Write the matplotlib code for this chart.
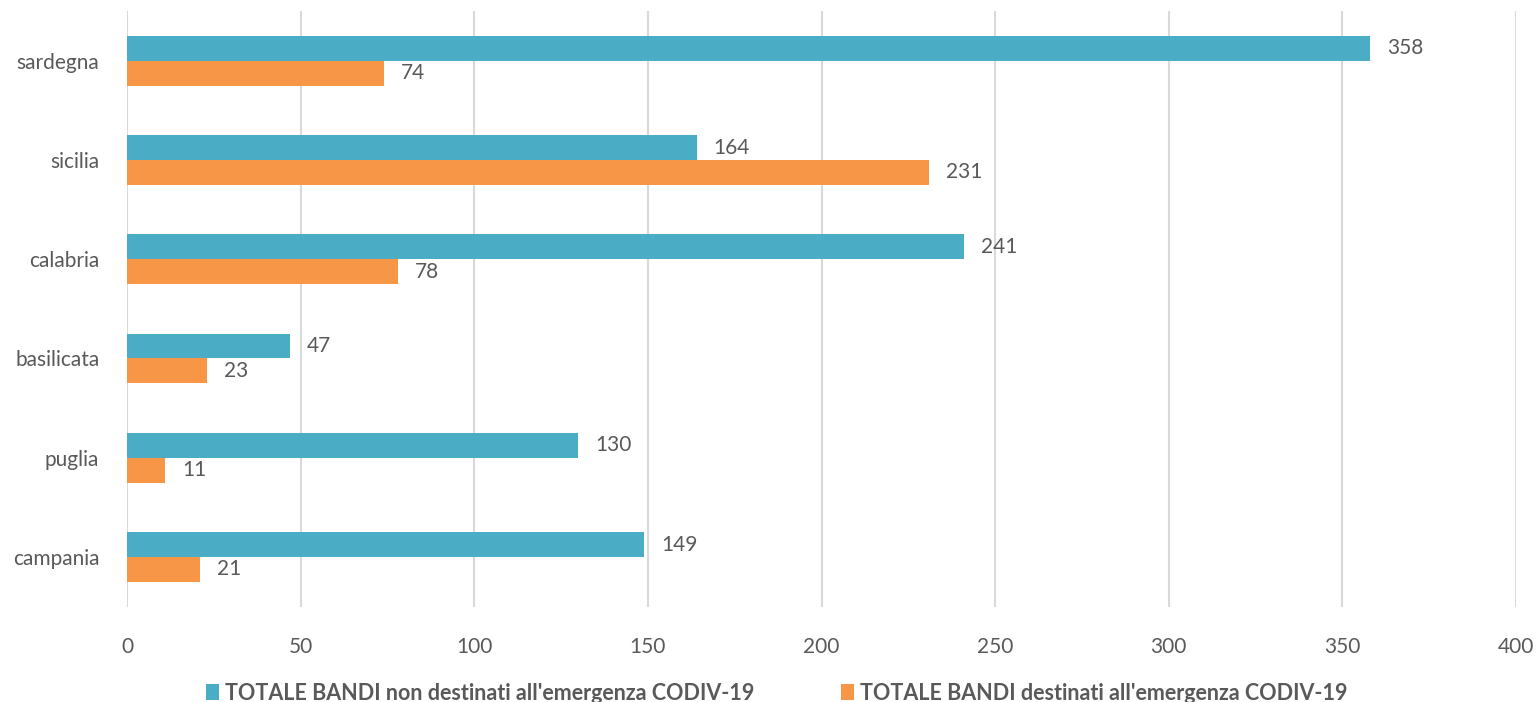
import matplotlib.pyplot as plt
import numpy as np

plt.rcParams['font.family'] = ['Lato', 'DejaVu Sans']

regioni = ['campania', 'puglia', 'basilicata', 'calabria', 'sicilia', 'sardegna']
non_covid = [149, 130, 47, 241, 164, 358]
covid = [21, 11, 23, 78, 231, 74]
label_non = "TOTALE BANDI non destinati all'emergenza CODIV-19"
label_cov = "TOTALE BANDI destinati all'emergenza CODIV-19"

teal = '#4BACC6'
orange = '#F79646'
grey = '#595959'

fig = plt.figure(figsize=(15.38, 7.02), dpi=100)
ax = fig.add_axes([0.0826, 0.136, 0.9031, 0.848])

y = np.arange(len(regioni))
h = 0.25
b1 = ax.barh(y + h / 2, non_covid, height=h, color=teal, label=label_non, zorder=3)
b2 = ax.barh(y - h / 2, covid, height=h, color=orange, label=label_cov, zorder=3)

for bars in (b1, b2):
    ax.bar_label(bars, padding=12, fontsize=15, color=grey)

ax.set_xlim(0, 400)
ax.set_ylim(-0.5, len(regioni) - 0.5)
ax.set_xticks(range(0, 401, 50))
ax.set_yticks(y)
ax.set_yticklabels(regioni)
ax.tick_params(axis='both', length=0, labelsize=15, labelcolor=grey)
ax.tick_params(axis='x', pad=22)
ax.tick_params(axis='y', pad=20)
ax.grid(axis='x', color='#D9D9D9', linewidth=1.5, zorder=0)
for s in ax.spines.values():
    s.set_visible(False)

fig.legend(handles=[b1, b2], loc='lower center', bbox_to_anchor=(0.505, -0.03),
           ncol=2, frameon=False, handlelength=0.6, handleheight=0.8,
           handletextpad=0.3, columnspacing=4.0,
           prop={'weight': 'bold', 'size': 15.5}, labelcolor=grey)

fig.savefig('out.png', dpi=100)
